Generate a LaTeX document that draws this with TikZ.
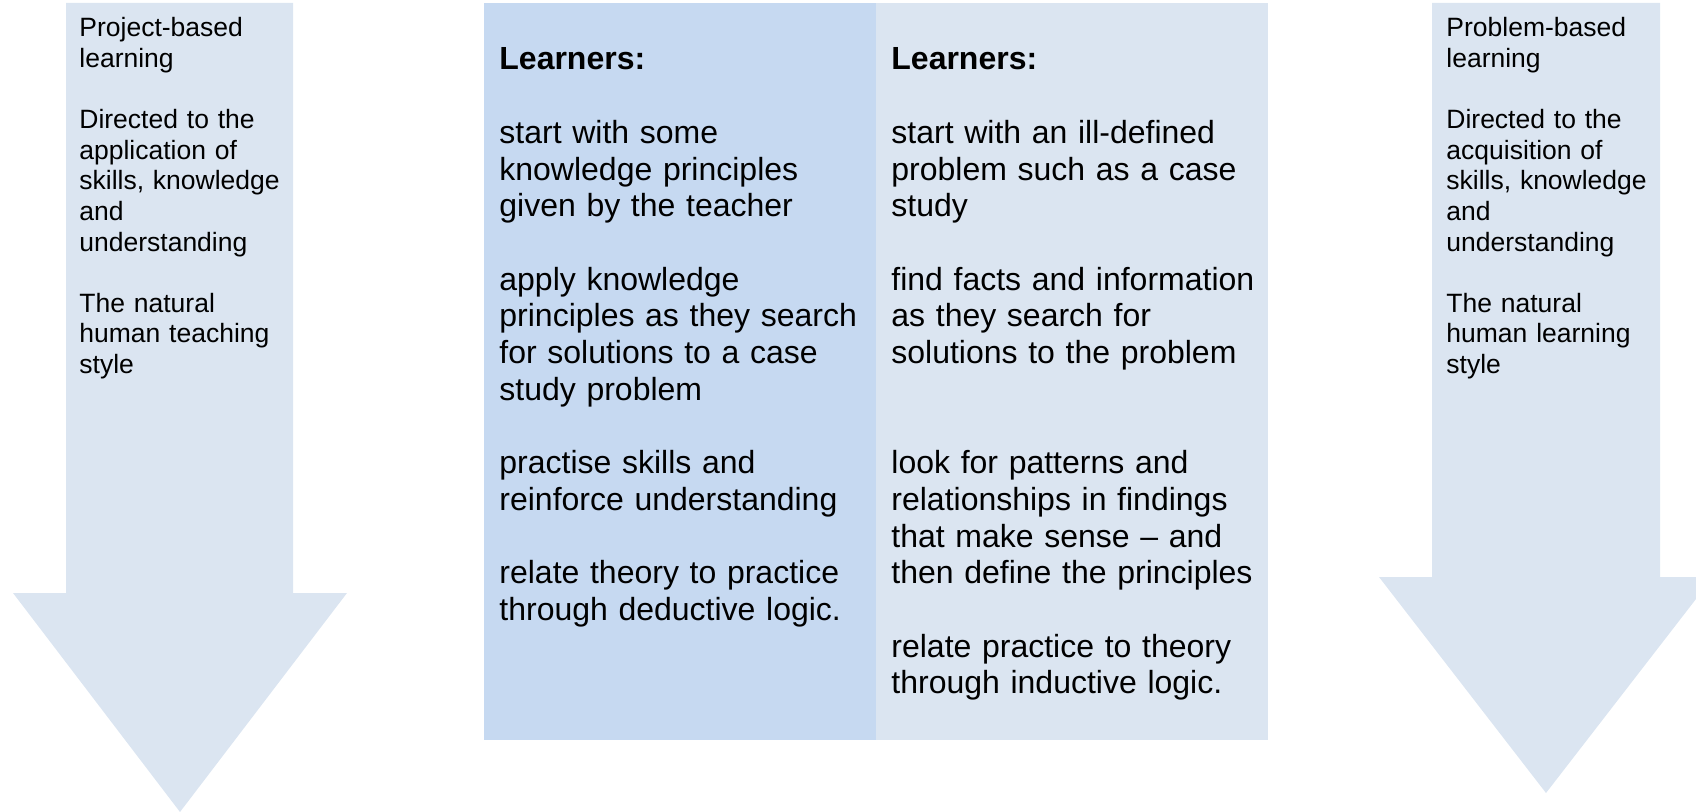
\documentclass[tikz,border=0pt]{standalone}
\usepackage{fontspec}
\setmainfont{Liberation Sans}
\usepackage{xcolor}
\usepackage{tikz}
\definecolor{paleblue}{HTML}{DBE5F1}
\definecolor{midblue}{HTML}{C6D9F1}

\begin{document}
\begin{tikzpicture}[x=0.5pt, y=-0.5pt, every 
                          node/.style={inner sep=0pt, anchor=base west, align=left},
                          sidetext/.style={text width=108pt,
                          font=\fontsize{13.25}{15.3}\selectfont},
                          midtext/.style={text width=186pt,
                          font=\fontsize{16}{18.35}\selectfont}]
                          \useasboundingbox (0,0) rectangle (1696,812);
                          \clip (0,0) rectangle (1696,812);
                          % the two big arrows
                          \fill[paleblue] (66,3) -- (293,3) -- (293,593) 
                          -- (347,593) -- (180,812) -- (13,593) -- (66,593) -- cycle;
                          \fill[paleblue] (1432,3) -- (1660,3) -- (1660,577) 
                          -- (1713,577) -- (1546,793) -- (1379,577) -- (1432,577) -- cycle;
                          % the two columns
                          \fill[midblue] (484,3) rectangle (876,740);
                          \fill[paleblue] (876,3) rectangle (1268,740);
                          \node[sidetext] (project) at (79,37) {Project-based\\learning\\[\baselineskip]
                          Directed to the\\application of\\skills, knowledge\\and\\understanding\\[\baselineskip]
                          The natural\\human teaching\\style};
                          \node[sidetext] (problem) at (1446,37) {Problem-based\\learning\\[\baselineskip]
                          Directed to the\\acquisition of\\skills, knowledge\\and\\understanding\\[\baselineskip]
                          The natural\\human learning\\style};
                          \node[midtext] (deductive) at (499,70) {\textbf{Learners:}\\[\baselineskip]
                          start with some\\knowledge principles\\given by the teacher\\[\baselineskip]
                          apply knowledge\\principles as they search\\for solutions to a case\\study problem\\[\baselineskip]
                          practise skills and\\reinforce understanding\\[\baselineskip]
                          relate theory to practice\\through deductive logic.};
                          \node[midtext] (inductive) at (891,70) {\textbf{Learners:}\\[\baselineskip]
                          start with an ill-defined\\problem such as a case\\study\\[\baselineskip]
                          find facts and information\\as they search for\\solutions to the problem\\[2\baselineskip]
                          look for patterns and\\relationships in findings\\that make sense \textendash{} and\\then define the principles\\[\baselineskip]
                          relate practice to theory\\through inductive logic.};
                      \end{tikzpicture}
\end{document}
